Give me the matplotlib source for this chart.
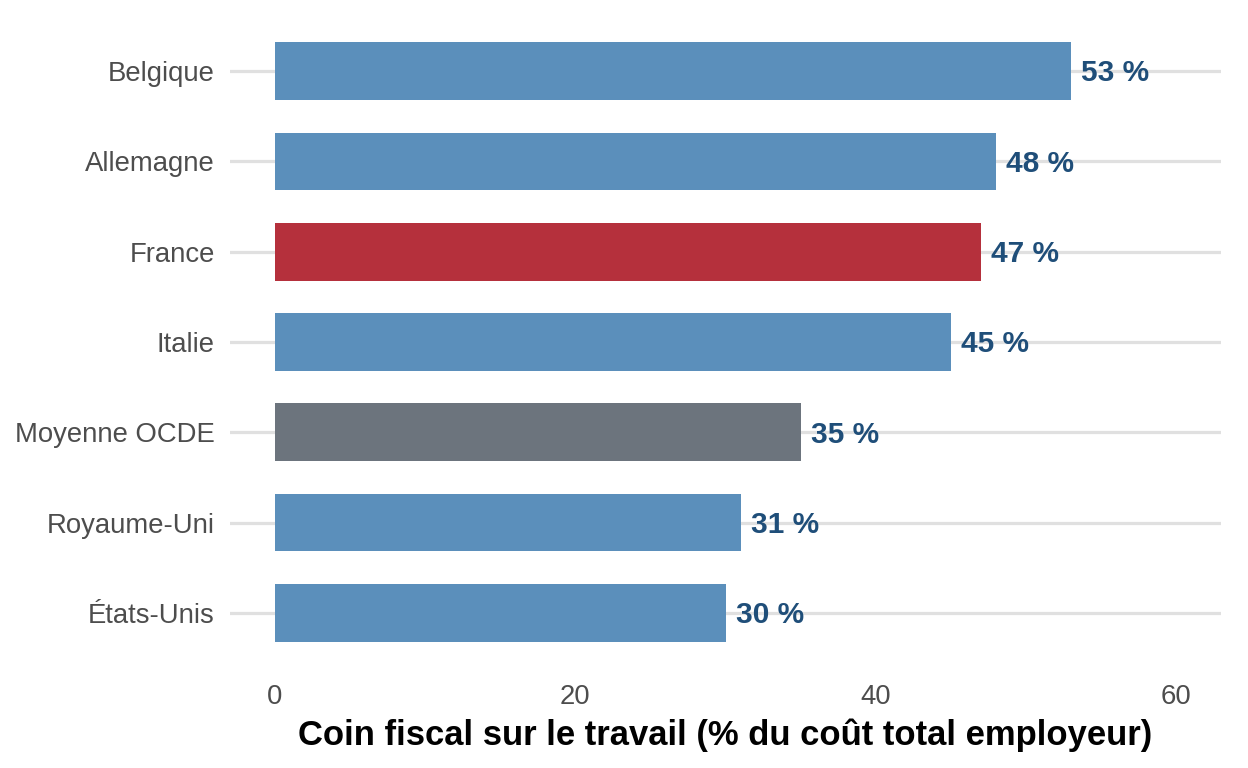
#! /usr/bin/env python3

import matplotlib
matplotlib.use("Agg")
import matplotlib.pyplot as plt

pays = ["Belgique", "Allemagne", "France", "Italie", "Moyenne OCDE", "Royaume-Uni", "États-Unis"]
coin_fiscal = [53.0, 48.0, 47.0, 45.0, 35.0, 31.0, 30.0]
couleurs = ["#5b8fbb", "#5b8fbb", "#b5303c", "#5b8fbb", "#6c747d", "#5b8fbb", "#5b8fbb"]
ticks_x = [0, 20, 40, 60]

plt.rcParams['font.family'] = ['Liberation Sans', 'DejaVu Sans']

fig = plt.figure(figsize=(12.48, 7.68), dpi=100)
ax = fig.add_axes([0.1843, 0.1315, 0.7941, 0.8464])

# bars from top to bottom
pos = list(range(len(pays)))[::-1]
ax.barh(pos, coin_fiscal, height=0.64, color=couleurs, zorder=2)

for p, v in zip(pos, coin_fiscal):
	ax.text(v + 0.7, p - 0.025, str(int(round(v))) + " %", va='center', ha='left',
			fontsize=21.5, fontweight='bold', color='#1f4e79', zorder=3)

ax.set_xlim(-3, 63)
ax.set_ylim(-0.6, len(pays) - 0.4)
ax.set_yticks(pos)
ax.set_yticklabels(pays)
ax.set_xticks(ticks_x)
ax.tick_params(axis='both', length=0, labelsize=19.8, labelcolor='#4d4d4d')
ax.tick_params(axis='y', pad=11)
ax.tick_params(axis='x', pad=12.5)
ax.grid(axis='y', color='#e0e0e0', linewidth=2.3, zorder=1)
ax.grid(axis='x', visible=False)
for s in ax.spines.values():
	s.set_visible(False)

ax.set_xlabel("Coin fiscal sur le travail (% du coût total employeur)",
			fontsize=24.9, fontweight='bold', color='black', labelpad=6)

plt.savefig('out.png', dpi=100)
plt.close()
